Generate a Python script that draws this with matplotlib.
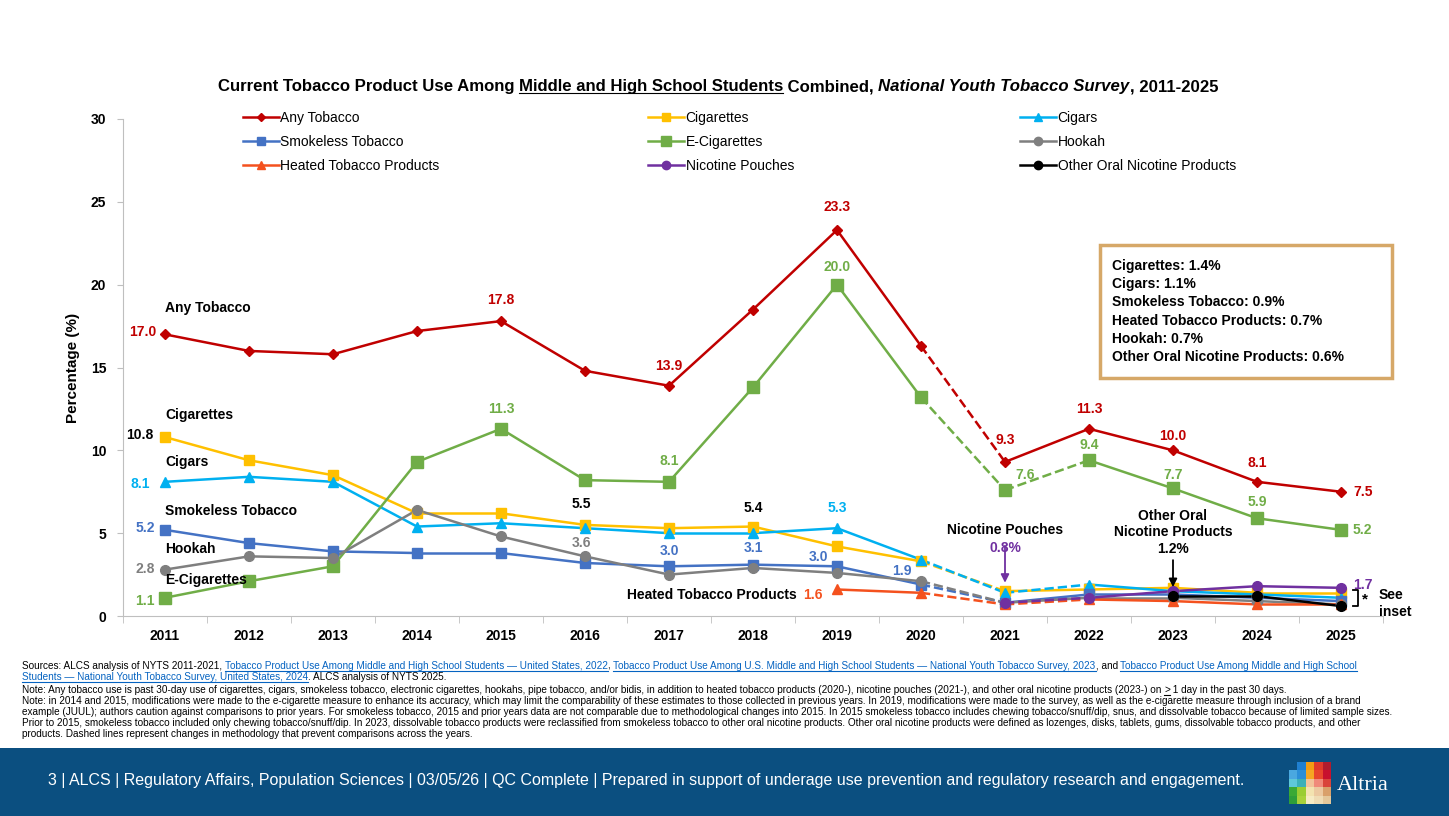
import matplotlib
matplotlib.use('Agg')
import matplotlib.pyplot as plt
from matplotlib.lines import Line2D
from matplotlib.patches import Rectangle
import numpy as np

W, H = 1449, 816
nan = np.nan

# ---------------- data ----------------
years = list(range(2011, 2026))
any_tobacco = [17.0, 16.0, 15.8, 17.2, 17.8, 14.8, 13.9, 18.5, 23.3, 16.3, 9.3, 11.3, 10.0, 8.1, 7.5]
cigarettes = [10.8, 9.4, 8.5, 6.2, 6.2, 5.5, 5.3, 5.4, 4.2, 3.3, 1.5, 1.6, 1.7, 1.4, 1.4]
cigars = [8.1, 8.4, 8.1, 5.4, 5.6, 5.3, 5.0, 5.0, 5.3, 3.4, 1.4, 1.9, 1.5, 1.3, 1.1]
smokeless = [5.2, 4.4, 3.9, 3.8, 3.8, 3.2, 3.0, 3.1, 3.0, 1.9, 0.8, 1.3, 1.3, 1.1, 0.9]
ecig = [1.1, 2.1, 3.0, 9.3, 11.3, 8.2, 8.1, 13.8, 20.0, 13.2, 7.6, 9.4, 7.7, 5.9, 5.2]
hookah = [2.8, 3.6, 3.5, 6.4, 4.8, 3.6, 2.5, 2.9, 2.6, 2.1, 0.8, 1.1, 1.1, 0.9, 0.7]
heated = [nan] * 8 + [1.6, 1.4, 0.7, 1.0, 0.9, 0.7, 0.7]
pouches = [nan] * 10 + [0.8, 1.1, 1.5, 1.8, 1.7]
other_oral = [nan] * 12 + [1.2, 1.2, 0.6]

inset_lines = ["Cigarettes: 1.4%", "Cigars: 1.1%", "Smokeless Tobacco: 0.9%",
               "Heated Tobacco Products: 0.7%", "Hookah: 0.7%",
               "Other Oral Nicotine Products: 0.6%"]

# name, values, color, marker, markersize, dashed span (years)
series = [
    ("Any Tobacco", any_tobacco, "#c00000", "D", 5, (2020, 2021)),
    ("Cigarettes", cigarettes, "#ffc000", "s", 7, (2020, 2021)),
    ("Cigars", cigars, "#00b0f0", "^", 7, (2020, 2022)),
    ("Smokeless Tobacco", smokeless, "#4472c4", "s", 7, (2020, 2021)),
    ("E-Cigarettes", ecig, "#70ad47", "s", 8, (2020, 2022)),
    ("Hookah", hookah, "#7f7f7f", "o", 7, (2020, 2021)),
    ("Heated Tobacco Products", heated, "#f4511e", "^", 7, (2020, 2022)),
    ("Nicotine Pouches", pouches, "#7030a0", "o", 7, (2021, 2022)),
    ("Other Oral Nicotine Products", other_oral, "#000000", "o", 7, (0, 0)),
]

plt.rcParams['font.family'] = ['Liberation Sans', 'DejaVu Sans']
fig = plt.figure(figsize=(W / 100, H / 100), dpi=100)
renderer = fig.canvas.get_renderer()


def fx(x):
    return x / W


def fy(y):
    return 1 - y / H


def text_w(s, **kw):
    t = fig.text(0, 0, s + '|', **kw)
    w1 = t.get_window_extent(renderer).width
    t.remove()
    t = fig.text(0, 0, '|', **kw)
    w2 = t.get_window_extent(renderer).width
    t.remove()
    return w1 - w2


def fit_size(s, target, **kw):
    return 10 * target / text_w(s, fontsize=10, **kw)


def runs(x, y, parts, size, family, ha='left', weight='normal'):
    widths = []
    for s, o in parts:
        widths.append(text_w(s, fontsize=size, family=family, weight=weight,
                             style=o.get('style', 'normal')))
    if ha == 'center':
        x -= sum(widths) / 2
    for (s, o), w in zip(parts, widths):
        c = o.get('color', 'black')
        fig.text(fx(x), fy(y), s, fontsize=size, family=family, weight=weight,
                 style=o.get('style', 'normal'), color=c, va='baseline', ha='left')
        if o.get('u'):
            fig.add_artist(Line2D([fx(x), fx(x + w)], [fy(y + 2), fy(y + 2)],
                                  color=c, lw=0.8))
        x += w


# ---------------- main axes ----------------
ax = fig.add_axes([123 / W, 1 - 616 / H, 1260 / W, 497 / H])
yrs = np.array(years)
handles = []
for name, vals, col, mk, ms, (d0, d1) in series:
    v = np.array(vals, dtype=float)
    for i in range(len(yrs) - 1):
        if np.isnan(v[i]) or np.isnan(v[i + 1]):
            continue
        ls = '--' if d0 <= yrs[i] < d1 else '-'
        ax.plot(yrs[i:i + 2], v[i:i + 2], color=col, lw=1.8, ls=ls, zorder=2)
    ax.plot(yrs, v, ls='none', marker=mk, ms=ms, color=col, zorder=3)
    handles.append(Line2D([], [], color=col, lw=1.8, marker=mk, ms=ms - 1, label=name))

ax.set_xlim(2010.5, 2025.5)
ax.set_ylim(0, 30)
ax.set_yticks(range(0, 31, 5))
ax.set_xticks(years)
ax.set_xticks(np.arange(2010.5, 2026, 1), minor=True)
ax.tick_params(axis='x', which='major', length=0, pad=9)
ax.tick_params(axis='x', which='minor', length=5, color='#bfbfbf', direction='out')
ax.tick_params(axis='y', length=4, color='#bfbfbf', pad=8)
for lbl in ax.get_xticklabels() + ax.get_yticklabels():
    lbl.set_fontweight('bold')
    lbl.set_fontsize(10)
for s in ['top', 'right']:
    ax.spines[s].set_visible(False)
for s in ['left', 'bottom']:
    ax.spines[s].set_color('#bfbfbf')
ax.set_ylabel('Percentage (%)', fontsize=11, fontweight='bold')
ax.yaxis.set_label_coords((80 - 123) / 1260, 0.5)

# legend: three columns placed separately
col_x = [243, 648, 1020]
for k in range(3):
    hs = handles[k::3]
    leg = fig.legend(handles=hs, loc='upper left', bbox_to_anchor=(fx(col_x[k]), fy(111)),
                     frameon=False, fontsize=10, handlelength=2.6, handletextpad=0.1,
                     labelspacing=0.72, borderpad=0, borderaxespad=0)

# ---------------- data labels ----------------
P = 0.72


def lab(vals, year, color, dx=0, dy=20, ha='center', fmt='{:.1f}'):
    v = vals[years.index(year)]
    ax.annotate(fmt.format(v), (year, v), xytext=(dx * P, dy * P), textcoords='offset points',
                ha=ha, va='center', color=color, fontsize=10, fontweight='bold')


def name(vals, year, s, dx=0, dy=20, ha='left', color='black'):
    v = vals[years.index(year)]
    ax.annotate(s, (year, v), xytext=(dx * P, dy * P), textcoords='offset points',
                ha=ha, va='center', color=color, fontsize=10, fontweight='bold')


red, yel, cya, blu, grn, gry, org, pur = "#c00000", "#ffc000", "#00b0f0", "#4472c4", "#70ad47", "#7f7f7f", "#f4511e", "#7030a0"

# left-side names and first values
name(any_tobacco, 2011, "Any Tobacco", dy=26)
lab(any_tobacco, 2011, red, dx=-9, dy=2, ha='right')
name(cigarettes, 2011, "Cigarettes", dy=22)
lab(cigarettes, 2011, 'black', dx=-12, dy=2, ha='right')
name(cigars, 2011, "Cigars", dy=20)
lab(cigars, 2011, cya, dx=-15, dy=-2, ha='right')
name(smokeless, 2011, "Smokeless Tobacco", dy=19)
lab(smokeless, 2011, blu, dx=-10, dy=2, ha='right')
name(hookah, 2011, "Hookah", dy=21)
lab(hookah, 2011, gry, dx=-10, dy=1, ha='right')
name(ecig, 2011, "E-Cigarettes", dy=18)
lab(ecig, 2011, grn, dx=-10, dy=-3, ha='right')

# any tobacco
for y_, dy in [(2015, 21), (2017, 20), (2019, 23), (2021, 22), (2022, 20), (2023, 14), (2024, 19)]:
    lab(any_tobacco, y_, red, dy=dy)
lab(any_tobacco, 2025, red, dx=12, dy=0, ha='left')
# e-cigarettes
for y_, dy in [(2015, 20), (2017, 21), (2019, 18), (2022, 15), (2023, 13), (2024, 16)]:
    lab(ecig, y_, grn, dy=dy)
lab(ecig, 2021, grn, dx=10, dy=15, ha='left')
lab(ecig, 2025, grn, dx=12, dy=0, ha='left')
# cigarettes / cigars / hookah / smokeless
lab(cigarettes, 2016, 'black', dx=-4, dy=21)
lab(cigarettes, 2018, 'black', dy=19)
lab(cigars, 2019, cya, dy=20)
lab(hookah, 2016, gry, dx=-4, dy=13)
lab(smokeless, 2017, blu, dy=15)
lab(smokeless, 2018, blu, dy=17)
lab(smokeless, 2019, blu, dx=-19, dy=9)
lab(smokeless, 2020, blu, dx=-19, dy=14)
# heated
lab(heated, 2019, org, dx=-14, dy=-6, ha='right')
name(heated, 2019, "Heated Tobacco Products", dx=-40, dy=-6, ha='right')
# pouches / other oral / end label
name(pouches, 2021, "Nicotine Pouches", dy=73, ha='center')
lab(pouches, 2021, pur, dy=55, fmt='{:.1f}%')
ax.annotate('', (2021, pouches[years.index(2021)]), xytext=(0, 57 * P), textcoords='offset points',
            arrowprops=dict(arrowstyle='-|>', color=pur, lw=1.3, shrinkA=0, shrinkB=20 * P,
                            mutation_scale=12))
name(other_oral, 2023, "Other Oral\nNicotine Products", dy=72, ha='center')
lab(other_oral, 2023, 'black', dy=47, fmt='{:.1f}%')
ax.annotate('', (2023, other_oral[years.index(2023)]), xytext=(0, 36 * P), textcoords='offset points',
            arrowprops=dict(arrowstyle='-|>', color='black', lw=1.3, shrinkA=0, shrinkB=9 * P,
                            mutation_scale=12))
lab(pouches, 2025, pur, dx=12, dy=3, ha='left')

# bracket + see inset
fig.add_artist(Line2D([fx(1353), fx(1358), fx(1358), fx(1353)],
                      [fy(590), fy(590), fy(606), fy(606)], color='black', lw=1.3))
fig.text(fx(1362), fy(599), '*', fontsize=11, fontweight='bold', va='center')
fig.text(fx(1379), fy(595), 'See', fontsize=10, fontweight='bold', va='center')
fig.text(fx(1379), fy(612), 'inset', fontsize=10, fontweight='bold', va='center')

# inset box
fig.add_artist(Rectangle((fx(1100), fy(378)), 292 / W, 133 / H, transform=fig.transFigure,
                         facecolor='white', edgecolor='#d6a868', lw=2.5))
for i, s in enumerate(inset_lines):
    fig.text(fx(1112), fy(266 + i * 18.2), s, fontsize=10, fontweight='bold', va='center')

# ---------------- title ----------------
title_parts = [("Current Tobacco Product Use Among ", {}),
               ("Middle and High School Students", {'u': True}),
               (" Combined, ", {}),
               ("National Youth Tobacco Survey", {'style': 'italic'}),
               (", 2011-2025", {})]
tfam = ['Liberation Sans', 'DejaVu Sans']
tsize = fit_size(''.join(p[0] for p in title_parts), 1000, family=tfam, weight='bold')
runs(718, 91, title_parts, tsize, tfam, ha='center', weight='bold')

# ---------------- footnotes ----------------
link = {'u': True, 'color': '#0563c1'}
note_lines = [
    [("Sources: ALCS analysis of NYTS 2011-2021, ", {}),
     ("Tobacco Product Use Among Middle and High School Students \u2014 United States, 2022", link),
     (", ", {}),
     ("Tobacco Product Use Among U.S. Middle and High School Students \u2014 National Youth Tobacco Survey, 2023", link),
     (", and ", {}),
     ("Tobacco Product Use Among Middle and High School", link)],
    [("Students \u2014 National Youth Tobacco Survey, United States, 2024", link),
     (". ALCS analysis of NYTS 2025.", {})],
    [("Note: Any tobacco use is past 30-day use of cigarettes, cigars, smokeless tobacco, electronic cigarettes, hookahs, pipe tobacco, and/or bidis, in addition to heated tobacco products (2020-), nicotine pouches (2021-), and other oral nicotine products (2023-) on ", {}),
     (">", {'u': True}), (" 1 day in the past 30 days.", {})],
    [("Note: in 2014 and 2015, modifications were made to the e-cigarette measure to enhance its accuracy, which may limit the comparability of these estimates to those collected in previous years. In 2019, modifications were made to the survey, as well as the e-cigarette measure through inclusion of a brand", {})],
    [("example (JUUL); authors caution against comparisons to prior years. For smokeless tobacco, 2015 and prior years data are not comparable due to methodological changes into 2015. In 2015 smokeless tobacco includes chewing tobacco/snuff/dip, snus, and dissolvable tobacco because of limited sample sizes.", {})],
    [("Prior to 2015, smokeless tobacco included only chewing tobacco/snuff/dip. In 2023, dissolvable tobacco products were reclassified from smokeless tobacco to other oral nicotine products. Other oral nicotine products were defined as lozenges, disks, tablets, gums, dissolvable tobacco products, and other", {})],
    [("products. Dashed lines represent changes in methodology that prevent comparisons across the years.", {})],
]
nfam = ['Liberation Sans Narrow', 'Liberation Sans', 'DejaVu Sans']
nsize = fit_size(note_lines[4][0][0], 1380, family=nfam)
note_y = [669, 680, 693, 704, 715, 726, 737]
for parts, y_ in zip(note_lines, note_y):
    runs(22, y_, parts, nsize, nfam)

# ---------------- footer band ----------------
fig.add_artist(Rectangle((0, 0), 1, 68 / H, transform=fig.transFigure,
                         facecolor='#0b4f80', edgecolor='none'))
footer = ("3 | ALCS | Regulatory Affairs, Population Sciences | 03/05/26 | QC Complete | "
          "Prepared in support of underage use prevention and regulatory research and engagement.")
fsize = fit_size(footer, 1202, family=tfam)
fig.text(fx(48), fy(781), footer, fontsize=fsize, color='white', va='center', family=tfam)

# logo grid
logo = [[None, '#1f7fd0', '#f39c12', '#e03a2a', '#b01c2e'],
        ['#4aa8e0', '#2b8fd8', '#f5a623', '#e8452c', '#c8102e'],
        ['#5ec8d8', '#3bb0b8', '#f2c39a', '#f08a7a', '#d9443a'],
        ['#3aa935', '#9acd32', '#f3e3b0', '#ecc9a0', '#d9a06a'],
        ['#2e9e3a', '#a8d13a', '#f6ebc4', '#efdcb4', '#e4c79a']]
cell = 8.4
for r, row in enumerate(logo):
    for c, colr in enumerate(row):
        if colr is None:
            continue
        fig.add_artist(Rectangle((fx(1289 + c * cell), fy(762 + (r + 1) * cell)), cell / W, cell / H,
                                 transform=fig.transFigure, facecolor=colr, edgecolor='none'))
fig.text(fx(1337), fy(785), 'Altria', fontsize=16, color='white', va='center',
         family=['Liberation Serif', 'DejaVu Serif'])

fig.savefig('out.png', dpi=100, facecolor='white')
